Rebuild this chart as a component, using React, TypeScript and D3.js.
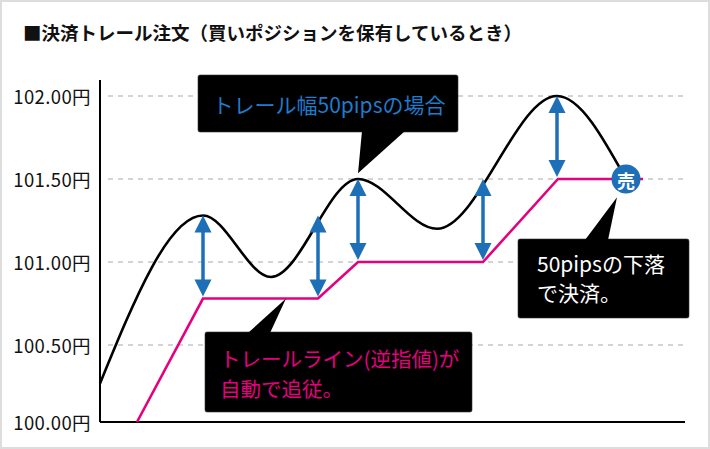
import React from "react";
import * as d3 from "d3";

// price path (time units, yen)
const priceT = [0, 20.6, 34.2, 51.6, 67.4, 91.4, 105.2];
const priceV = [100.25, 101.28, 100.91, 101.5, 101.2, 102.0, 101.5];

// trailing stop line
const trailT = [7.4, 20.6, 43.6, 51.6, 76.6, 91.6, 108.6];
const trailV = [100.0, 100.78, 100.78, 101.0, 101.0, 101.5, 101.5];

// 50 pips arrows
const arrowT = [20.6, 43.6, 51.6, 76.6, 91.4];
const arrowTop = [101.28, 101.28, 101.5, 101.5, 102.0];
const trailWidth = 0.5;

const yTicks = [100, 100.5, 101, 101.5, 102];
const sellPoint = { t: 105.2, v: 101.5, label: "売" };

const title = "■決済トレール注文（買いポジションを保有しているとき）";

const FONT = '"Noto Sans CJK JP", "Noto Sans", sans-serif';
const BLUE = "#1d6fb8";
const PINK = "#e4007f";

const W = 710;
const H = 449;

export default function App() {
  const x = d3.scaleLinear().domain([0, 117]).range([100, 685]);
  // hand-drawn original: bottom band is slightly narrower than the others
  const y = d3.scaleLinear().domain([100, 100.5, 102]).range([422, 345, 96]);

  const priceLine = d3
    .line<number>()
    .x((_, i) => x(priceT[i]))
    .y((d) => y(d))
    .curve(d3.curveMonotoneX);

  const trailLine = d3
    .line<number>()
    .x((_, i) => x(trailT[i]))
    .y((d) => y(d));

  // callouts: box, tail base on one edge, tail tip in data coords
  const callouts = [
    {
      box: { x: 198, y: 75, w: 260, h: 57 },
      base: [362, 405],
      edge: "bottom",
      tip: { t: 51.6, v: 101.535 },
      lines: ["トレール幅50pipsの場合"],
      color: "#1f7bcb",
      anchor: "middle",
      tx: 329,
      ty: [104],
      size: 21,
    },
    {
      box: { x: 205, y: 332, w: 267, h: 80 },
      base: [248, 270],
      edge: "top",
      tip: { t: 37.2, v: 100.78 },
      lines: ["トレールライン(逆指値)が", "自動で追従。"],
      color: PINK,
      anchor: "start",
      tx: 220,
      ty: [358, 388],
      size: 20.5,
    },
    {
      box: { x: 518, y: 239, w: 171, h: 79 },
      base: [585, 608],
      edge: "top",
      tip: { t: 103.4, v: 101.39 },
      lines: ["50pipsの下落", "で決済。"],
      color: "#ffffff",
      anchor: "start",
      tx: 537,
      ty: [263, 292],
      size: 21,
    },
  ];

  const headH = 17;
  const headW = 8.5;

  return (
    <svg
      width={W}
      height={H}
      style={{ position: "absolute", left: 0, top: 0, display: "block", background: "#fff" }}
      fontFamily={FONT}
    >
      <rect x={1} y={1} width={W - 2} height={H - 2} fill="#fff" stroke="#dddddd" strokeWidth={2} />

      <text x={23} y={32} fontSize={18.5} fontWeight="bold" dominantBaseline="central" fill="#111">
        {title}
      </text>

      {/* grid */}
      {yTicks
        .filter((d) => d > 100)
        .map((d) => (
          <line
            key={d}
            x1={x(0) + 8}
            x2={x(117)}
            y1={y(d)}
            y2={y(d)}
            stroke="#aaaaaa"
            strokeWidth={1.2}
            strokeDasharray="5,5"
          />
        ))}

      {/* axes */}
      <line x1={x(0)} x2={x(0)} y1={80} y2={y(100)} stroke="#000" strokeWidth={2} />
      <line x1={x(0)} x2={x(117)} y1={y(100)} y2={y(100)} stroke="#000" strokeWidth={2} />

      {yTicks.map((d) => (
        <text
          key={d}
          x={91}
          y={y(d)}
          textAnchor="end"
          dominantBaseline="central"
          fontSize={18.5}
          letterSpacing={0.4}
          fill="#111"
        >
          {d.toFixed(2) + "円"}
        </text>
      ))}

      <path d={trailLine(trailV) || ""} fill="none" stroke={PINK} strokeWidth={2.6} />
      <path d={priceLine(priceV) || ""} fill="none" stroke="#000" strokeWidth={2.6} />

      {/* 50 pips arrows */}
      {arrowT.map((t, i) => {
        const cx = x(t);
        const yt = y(arrowTop[i]);
        const yb = y(arrowTop[i] - trailWidth);
        return (
          <g key={i} fill={BLUE}>
            <line x1={cx} x2={cx} y1={yt + headH - 1} y2={yb - headH + 1} stroke={BLUE} strokeWidth={3.5} />
            <path d={`M${cx},${yt} L${cx + headW},${yt + headH} L${cx - headW},${yt + headH} Z`} />
            <path d={`M${cx},${yb - 2} L${cx + headW},${yb - 2 - headH} L${cx - headW},${yb - 2 - headH} Z`} />
          </g>
        );
      })}

      {/* callouts */}
      {callouts.map((c, i) => {
        const by = c.edge === "top" ? c.box.y + 1 : c.box.y + c.box.h - 1;
        const tx = x(c.tip.t);
        const ty = y(c.tip.v);
        return (
          <g key={i}>
            <rect x={c.box.x} y={c.box.y} width={c.box.w} height={c.box.h} rx={2} fill="#000" stroke="#333" strokeWidth={0.6} />
            <path d={`M${c.base[0]},${by} L${tx},${ty} L${c.base[1]},${by} Z`} fill="#000" />
            {c.lines.map((s, j) => (
              <text
                key={j}
                x={c.tx}
                y={c.ty[j]}
                fill={c.color}
                fontSize={c.size}
                textAnchor={c.anchor}
                dominantBaseline="central"
              >
                {s}
              </text>
            ))}
          </g>
        );
      })}

      {/* sell marker */}
      <circle cx={x(sellPoint.t)} cy={y(sellPoint.v)} r={14.5} fill={BLUE} />
      <text
        x={x(sellPoint.t)}
        y={y(sellPoint.v) + 1}
        fill="#fff"
        fontSize={18}
        fontWeight="bold"
        textAnchor="middle"
        dominantBaseline="central"
      >
        {sellPoint.label}
      </text>
    </svg>
  );
}
